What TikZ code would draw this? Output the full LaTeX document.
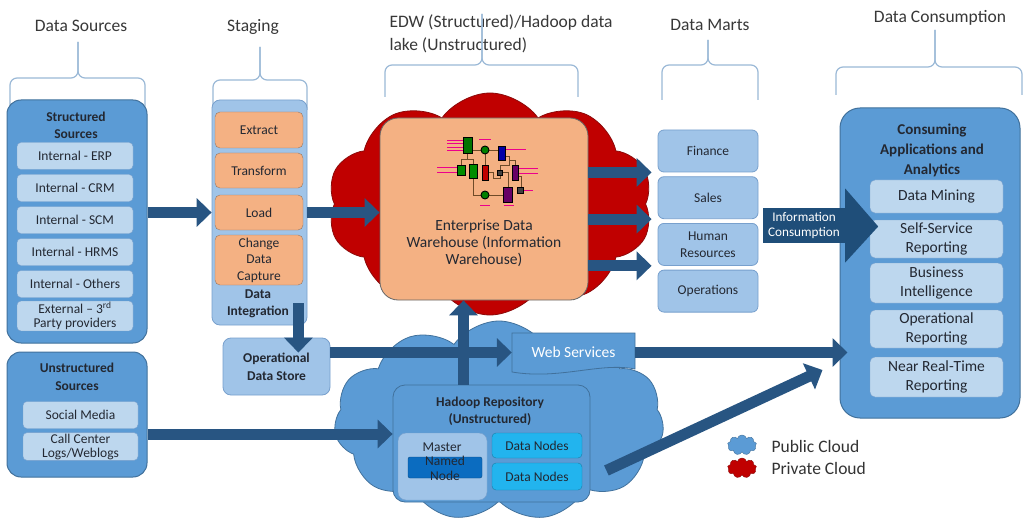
\documentclass[tikz,border=0pt]{standalone}
\usepackage{fontspec}
\setmainfont{Carlito}
\usetikzlibrary{arrows.meta,shapes.symbols,calc}

\definecolor{boxblue}{RGB}{91,155,213}
\definecolor{boxedge}{RGB}{65,113,156}
\definecolor{itemblue}{RGB}{189,215,238}
\definecolor{itemedge}{RGB}{120,160,205}
\definecolor{paleblue}{RGB}{160,196,232}
\definecolor{etlorange}{RGB}{244,177,131}
\definecolor{etledge}{RGB}{150,120,100}
\definecolor{arrowblue}{RGB}{40,85,130}
\definecolor{navy}{RGB}{31,78,121}
\definecolor{privred}{RGB}{192,0,0}
\definecolor{privedge}{RGB}{140,10,10}
\definecolor{nodecyan}{RGB}{34,180,238}
\definecolor{namedblue}{RGB}{11,108,192}
\definecolor{bracegray}{RGB}{155,185,215}
\definecolor{inkdark}{RGB}{35,40,50}
\definecolor{wirebrown}{RGB}{110,75,40}

\newcommand{\fsz}[2]{\fontsize{#1}{#2}\selectfont}

% heading brace: left x, right x, stem x, bar y, foot y, stem top y
\newcommand{\colbrace}[6]{%
  \draw[bracestyle] (#1,#5) -- (#1,#4) -- (#3,#4) -- (#3,#6);
  \draw[bracestyle] (#2,#5) -- (#2,#4) -- (#3,#4) -- (#3,#6);}

\tikzset{
  headtext/.style={font=\fsz{17.5}{23}, text=black!78, align=center},
  boldlabel/.style={font=\bfseries\fsz{13.5}{17}, text=inkdark, align=center, inner sep=0pt},
  bigbox/.style={draw=boxedge, fill=boxblue, line width=1pt, rounded corners=14pt},
  srcitem/.style={draw=itemedge, fill=itemblue, rounded corners=4pt, minimum width=116pt,
    minimum height=27pt, inner sep=1pt, align=center, font=\fsz{13.5}{14}, text=inkdark},
  stagebox/.style={draw=itemedge, fill=paleblue, line width=0.8pt, rounded corners=8pt,
    align=center, text=inkdark},
  etlbox/.style={draw=etledge, fill=etlorange, rounded corners=5pt, minimum width=88pt,
    inner sep=1pt, align=center, font=\fsz{13.5}{16.5}, text=inkdark},
  edwbox/.style={draw=black!60, fill=etlorange, line width=0.8pt, rounded corners=18pt},
  martbox/.style={draw=itemedge, fill=paleblue, line width=0.8pt, rounded corners=6pt,
    minimum width=100pt, minimum height=42pt, inner sep=1pt, align=center,
    font=\fsz{13.5}{17}, text=inkdark},
  appitem/.style={draw=itemedge, fill=itemblue, rounded corners=5pt, minimum width=133pt,
    inner sep=1pt, align=center, font=\fsz{15.5}{18.5}, text=inkdark},
  hadbox/.style={draw=boxedge, fill=boxblue, line width=0.8pt, rounded corners=12pt},
  masterbox/.style={draw=itemedge, fill=paleblue, rounded corners=8pt},
  datanode/.style={draw=nodecyan!70!black, fill=nodecyan, rounded corners=4pt,
    minimum width=90pt, inner sep=1pt, font=\fsz{13.5}{15}, text=inkdark},
  bigarrow/.style={draw=arrowblue, line width=11pt, -{Triangle[width=28pt,length=15pt]}},
  bracestyle/.style={draw=bracegray, line width=1.2pt, rounded corners=7pt},
}

\begin{document}
\begin{tikzpicture}[x=1pt,y=-1pt]
\fill[white] (0,0) rectangle (1023,524);
\useasboundingbox (0,0) rectangle (1023,524);

% column headings
\node[headtext] (hsrc) at (81,26) {Data Sources};
\node[headtext] (hstage) at (253,27) {Staging};
\node[headtext, anchor=west, align=left] (hedw) at (386,34) {EDW (Structured)/Hadoop data\\lake (Unstructured)};
\node[headtext] (hmart) at (710,25) {Data Marts};
\node[headtext] (hcons) at (940,18) {Data Consumption};

\colbrace{10}{145}{78}{78}{107}{42}
\colbrace{213}{307}{260}{80}{110}{47}
\colbrace{385}{578}{482}{65}{97}{14}
\colbrace{662}{758}{708}{65}{100}{40}
\colbrace{836}{1022}{935}{67}{95}{30}

% clouds
\node[cloud, cloud puffs=11, cloud puff arc=110, cloud ignores aspect, fill=boxblue, draw=boxedge,
  line width=0.8pt, minimum width=330pt, minimum height=200pt] (pubcloud) at (499,421) {};
\node[cloud, cloud puffs=10, cloud puff arc=110, cloud ignores aspect, fill=privred, draw=privedge,
  line width=0.8pt, minimum width=325pt, minimum height=222pt] (privcloud) at (490,204) {};

% data sources
\node[bigbox, minimum width=140pt, minimum height=243pt] (struct) at (77,221.5) {};
\node[boldlabel] (structtitle) at (76,125.5) {Structured\\Sources};
\foreach \txt [count=\i] in {Internal - ERP, Internal - CRM, Internal - SCM, Internal - HRMS,
    Internal - Others, {External -- 3\textsuperscript{rd}\\Party providers}}
  \node[srcitem] (src\i) at (75,{156+32*(\i-1)}) {\txt};

\node[bigbox, minimum width=140pt, minimum height=125pt] (unstruct) at (77,414.5) {};
\node[boldlabel, font=\bfseries\fsz{13.5}{18}] (unstructtitle) at (77,377) {Unstructured\\Sources};
\node[srcitem, minimum width=115pt] (social) at (80.5,415) {Social Media};
\node[srcitem, minimum width=115pt] (calllog) at (80.5,446.5) {Call Center\\Logs/Weblogs};

% staging
\node[stagebox, minimum width=95pt, minimum height=225pt] (staging) at (259.5,212.5) {};
\node[etlbox, minimum height=36pt] (extract) at (259,130) {Extract};
\node[etlbox, minimum height=35pt] (transform) at (259,170.5) {Transform};
\node[etlbox, minimum height=35pt] (load) at (259,212.5) {Load};
\node[etlbox, minimum height=50pt] (cdc) at (259,260) {Change\\Data\\Capture};
\node[boldlabel] (dilabel) at (258,303.5) {Data\\Integration};

\node[stagebox, minimum width=107pt, minimum height=57pt, font=\bfseries\fsz{13.5}{18}] (ods) at (276.5,366.5) {Operational\\Data Store};

% warehouse
\node[edwbox, minimum width=208pt, minimum height=182pt] (edw) at (484,209) {};
\begin{scope}[line width=0.9pt]
  \draw[wirebrown] (467,153) -- (467,159) -- (461,159) -- (461,165)
    (467,159) -- (473,159) -- (473,164)
    (472,150) -- (498,150)
    (485,150) -- (485,165)
    (505,156) -- (509,156) -- (509,165) -- (500,165) -- (500,170)
    (502,172) -- (508,172) -- (508,187)
    (473,178) -- (473,195) -- (503,195)
    (488,172) -- (493,172) -- (493,178) -- (500,178) -- (500,175)
    (518,176) -- (521,176) -- (521,188)
    (515,165) -- (515,160) -- (509,160);
  \draw[magenta] (447,140) -- (463,140) (447,143.5) -- (463,143.5)
    (447,147) -- (463,147) (447,150.5) -- (463,150.5)
    (437,167) -- (457,167) (437,172) -- (457,172)
    (505,149) -- (526,149)
    (518,168) -- (538,168) (518,173) -- (538,173)
    (523,190) -- (533,190)
    (479,139) -- (491,139) (480,205) -- (490,205) (504,205) -- (514,205);
  \filldraw[draw=black, fill=green!45!black] (463,137) rectangle (472,153);
  \filldraw[draw=black, fill=green!55!black] (457,165) rectangle (465,175);
  \filldraw[draw=black, fill=green!55!black] (469,164) rectangle (477,178);
  \filldraw[draw=black, fill=red!75!black] (482,165) rectangle (488,180);
  \filldraw[draw=black, fill=black!75] (497,170) rectangle (502,175);
  \filldraw[draw=black, fill=blue!65!black] (498,146) rectangle (505,160);
  \filldraw[draw=black, fill=violet!80!black] (512,165) rectangle (518,180);
  \filldraw[draw=black, fill=violet!80!black] (503,187) rectangle (512,202);
  \filldraw[draw=black, fill=black!75] (517,187) rectangle (523,193);
  \filldraw[draw=black, fill=green!50!black] (485,150) circle (4);
  \filldraw[draw=black, fill=green!50!black] (485,195) circle (4);
\end{scope}
\node[font=\fsz{15.5}{17}, text=inkdark, align=center] (edwtext) at (484,243) {Enterprise Data\\Warehouse (Information\\Warehouse)};

% data marts
\foreach \txt [count=\i] in {Finance, Sales, {Human\\Resources}, Operations}
  \node[martbox] (mart\i) at (708,{151+46.7*(\i-1)}) {\txt};

% consumption
\node[bigbox, rounded corners=20pt, minimum width=180pt, minimum height=310pt] (consume) at (930,263) {};
\node[boldlabel, font=\bfseries\fsz{15}{20}] (constitle) at (932,150) {Consuming\\Applications and\\Analytics};
\foreach \y/\h/\txt [count=\i] in {196.5/33/Data Mining, 239/38/{Self-Service\\Reporting},
    283/40/{Business\\Intelligence}, 329/38/{Operational\\Reporting}, 377/40/{Near Real-Time\\Reporting}}
  \node[appitem, minimum height=\h pt] (app\i) at (936.5,\y) {\txt};

\node[fill=navy, text=white, font=\fsz{13.2}{16}, align=center, minimum width=82pt,
  minimum height=35pt, inner sep=1pt] (info) at (804,225.5) {Information\\Consumption};
\fill[navy] ([yshift=37pt]info.east) -- ([xshift=33pt,yshift=-1pt]info.east) -- ([yshift=-37pt]info.east) -- cycle;

% hadoop repository
\node[hadbox, minimum width=197pt, minimum height=117pt] (hadoop) at (491.5,443.5) {};
\node[boldlabel] (hadtitle) at (490,411.5) {Hadoop Repository\\(Unstructured)};
\node[masterbox, minimum width=89pt, minimum height=67pt] (master) at (442.5,466.5) {};
\node[font=\fsz{13.5}{15}, text=inkdark] (mastertext) at (442,447) {Master};
\node[fill=namedblue, draw=namedblue!70!black, rounded corners=2pt, minimum width=74pt,
  minimum height=21pt] (named) at (445,467.5) {};
\node[font=\fsz{13.5}{15}, text=inkdark, align=center] (namedtext) at (445,468) {Named\\Node};
\node[datanode, minimum height=25pt] (dn1) at (537,445.5) {Data Nodes};
\node[datanode, minimum height=27pt] (dn2) at (537,476.5) {Data Nodes};

% web services
\filldraw[fill=boxblue, draw=boxedge, line width=0.8pt] (512,333) -- (635,333) -- (635,369)
  .. controls (600,362) and (560,380) .. (512,372) -- cycle;
\node[font=\fsz{15.5}{17}, text=white, minimum width=123pt, minimum height=39pt] (web) at (573.5,352.5) {Web Services};

% legend
\node[cloud, cloud puffs=9, cloud ignores aspect, fill=boxblue, draw=boxedge,
  minimum width=29pt, minimum height=20pt] (pubkey) at (742,445) {};
\node[anchor=west, font=\fsz{17.5}{20}, text=black!80] (pubtext) at (768,446) {Public Cloud};
\node[cloud, cloud puffs=9, cloud ignores aspect, fill=privred, draw=privedge,
  minimum width=29pt, minimum height=20pt] (privkey) at (742,468) {};
\node[anchor=west, font=\fsz{17.5}{20}, text=black!80] (privtext) at (768,468) {Private Cloud};

% flows
\draw[bigarrow] (struct.east |- load) -- (staging.west |- load);
\draw[bigarrow] (staging.east |- load) -- (edw.west |- load);
\coordinate (dtop) at ([xshift=-9pt,yshift=22pt]staging.south east);
\draw[bigarrow, shorten >=-15pt] (dtop) -- (dtop |- ods.north);
\draw[bigarrow] (ods.east |- web) -- (web.west);
\draw[bigarrow, shorten >=-8pt] (web.east) -- (consume.west |- web.east);
\foreach \i in {1,2,3}
  \draw[bigarrow] (edw.east |- mart\i.south) -- ([xshift=-6pt]mart\i.south west);
\coordinate (hup) at ([xshift=-28pt]hadoop.north);
\draw[bigarrow] (hup) -- (hup |- edw.south);
\coordinate (ua) at ([yshift=-19.5pt]unstruct.east);
\draw[bigarrow] (ua) -- (ua -| hadoop.west);
\coordinate (hd) at ([shift={(16,27)}]hadoop.east);
\coordinate (ct) at ([shift={(-17,107)}]consume.west);
\draw[bigarrow] (hd) -- (ct);
\end{tikzpicture}
\end{document}
